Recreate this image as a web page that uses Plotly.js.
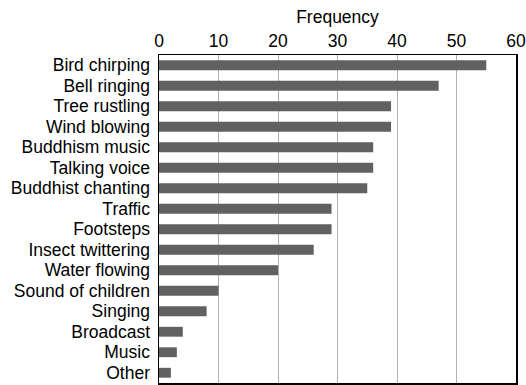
<!DOCTYPE html>
<html>
<head>
<meta charset="utf-8">
<script src="https://cdn.plot.ly/plotly-3.0.1.min.js"></script>
<style>html,body{margin:0;padding:0;background:#fff;}#chart{width:526px;height:385px;}</style>
</head>
<body>
<div id="chart"></div>
<script>
const categories = ["Bird chirping","Bell ringing","Tree rustling","Wind blowing","Buddhism music","Talking voice","Buddhist chanting","Traffic","Footsteps","Insect twittering","Water flowing","Sound of children","Singing","Broadcast","Music","Other"];
const frequency = [55,47,39,39,36,36,35,29,29,26,20,10,8,4,3,2];
const xTicks = [0,10,20,30,40,50,60];

Plotly.newPlot('chart', [{
  type: 'bar',
  orientation: 'h',
  y: categories,
  x: frequency,
  marker: {color: '#616161', line: {width: 0}},
  hoverinfo: 'none'
}], {
  width: 526, height: 385,
  margin: {l: 159, r: 10, t: 55, b: 2},
  paper_bgcolor: '#fff', plot_bgcolor: '#fff',
  font: {family: 'Liberation Sans, Arial, sans-serif', size: 17.5, color: '#000'},
  bargap: 0.52,
  showlegend: false,
  xaxis: {
    side: 'top', range: [0, 60], tickvals: xTicks, ticktext: xTicks.map(String),
    showgrid: true, gridcolor: '#b0b0b0', gridwidth: 1,
    showline: true, linecolor: '#000', linewidth: 1.5, mirror: true,
    ticks: '', zeroline: false, ticklen: 0,
    title: {text: 'Frequency', font: {size: 17.5}, standoff: 2}
  },
  yaxis: {
    autorange: 'reversed', showgrid: false, showline: true, linecolor: '#000', linewidth: 1.5, mirror: true,
    ticks: '', ticklabelstandoff: 4, tickmode: 'linear', tick0: 0, dtick: 1
  }
}, {displayModeBar: false, staticPlot: true});
</script>
</body>
</html>
